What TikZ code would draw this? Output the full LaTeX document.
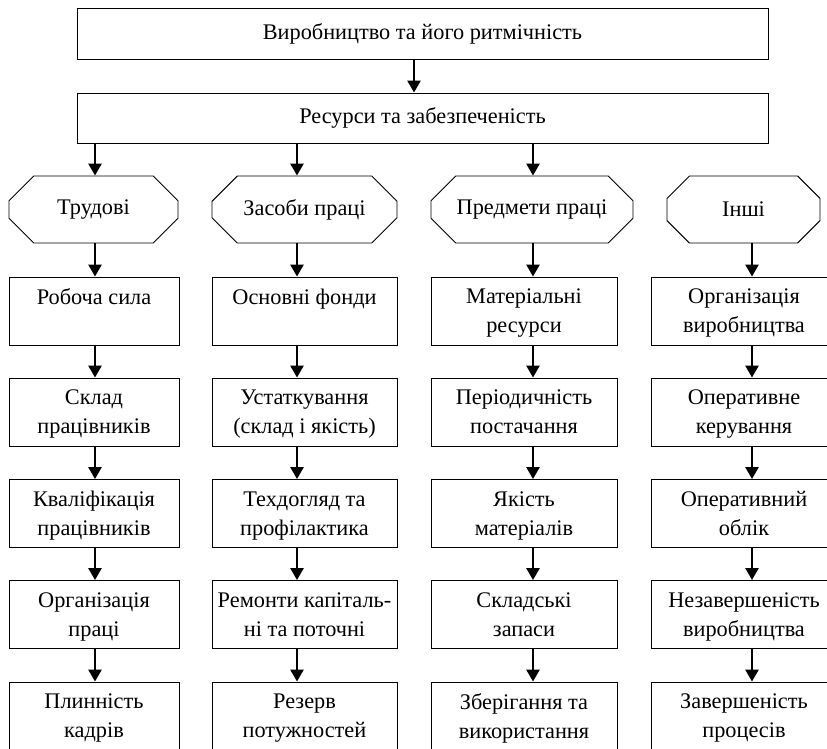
\documentclass[tikz,border=0pt]{standalone}
\usepackage{fontspec}
\setmainfont{Liberation Serif}
\usetikzlibrary{arrows.meta}
\usetikzlibrary{shapes.misc}

\tikzset{
  txt/.style={font=\fontsize{22.3}{29}\selectfont},
  wide/.style={txt, draw, line width=0.9pt, minimum width=691pt, minimum height=51pt, inner sep=0pt},
  octa/.style={txt, chamfered rectangle, chamfered rectangle xsep=22pt, chamfered rectangle ysep=15pt, draw, line width=0.9pt, minimum height=67pt, inner sep=0pt},
  box/.style={txt, draw, line width=0.9pt, minimum height=68pt, inner sep=0pt, align=center, text depth=0pt},
  arr/.style={-{Triangle[width=13pt,length=12pt]}, line width=2.6pt}
}

\begin{document}
\begin{tikzpicture}[x=1pt,y=-1pt]
                \useasboundingbox (0,0) rectangle (827,748);
                \clip (0,0) rectangle (827,748);

                % top
                \node[wide] (vyrob) at (422.5,33.5) {Виробництво та його ритмічність};
                \node[wide, minimum height=50pt] (resurs) at (422.5,118) {Ресурси та забезпеченість};

                % column lines
                \coordinate (k0) at (414,0);
                \coordinate (k1) at (95,0);
                \coordinate (k2) at (297,0);
                \coordinate (k3) at (533,0);
                \coordinate (k4) at (752,0);

                % groups
                \node[octa, minimum width=169pt] (trud) at (93.5,209.5) {Трудові};
                \node[octa, minimum width=185pt] (zasob) at (304.5,209.5) {Засоби праці};
                \node[octa, minimum width=202pt] (predm) at (532,209.5) {Предмети праці};
                \node[octa, minimum width=153pt] (inshi) at (743.5,209.5) {Інші};

                % trudovi
                \node[box, minimum width=170pt] (t1) at (94,311) {Робоча сила\\\mbox{}};
                \node[box, minimum width=170pt] (t2) at (94,412) {Склад\\працівників};
                \node[box, minimum width=170pt] (t3) at (94,513.5) {Кваліфікація\\працівників};
                \node[box, minimum width=170pt] (t4) at (94,614.5) {Організація\\праці};
                \node[box, minimum width=170pt] (t5) at (94,716) {Плинність\\кадрів};

                % zasoby
                \node[box, minimum width=185pt] (z1) at (304.5,311) {Основні фонди\\\mbox{}};
                \node[box, minimum width=185pt] (z2) at (304.5,412) {Устаткування\\(склад і якість)};
                \node[box, minimum width=185pt] (z3) at (304.5,513.5) {Техдогляд та\\профілактика};
                \node[box, minimum width=185pt] (z4) at (304.5,614.5) {Ремонти капіталь-\\ні та поточні};
                \node[box, minimum width=185pt] (z5) at (304.5,716) {Резерв\\потужностей};

                % predmety
                \node[box, minimum width=186pt] (p1) at (524,311) {Матеріальні\\ресурси};
                \node[box, minimum width=186pt] (p2) at (524,412) {Періодичність\\постачання};
                \node[box, minimum width=186pt] (p3) at (524,513.5) {Якість\\матеріалів};
                \node[box, minimum width=186pt] (p4) at (524,614.5) {Складські\\запаси};
                \node[box, minimum width=186pt] (p5) at (524,716) {Зберігання та\\використання};

                % inshi
                \node[box, minimum width=186pt] (i1) at (744,311) {Організація\\виробництва};
                \node[box, minimum width=186pt] (i2) at (744,412) {Оперативне\\керування};
                \node[box, minimum width=186pt] (i3) at (744,513.5) {Оперативний\\облік};
                \node[box, minimum width=186pt] (i4) at (744,614.5) {Незавершеність\\виробництва};
                \node[box, minimum width=186pt] (i5) at (744,716) {Завершеність\\процесів};

                % arrows
                \draw[arr] (vyrob.south -| k0) -- (resurs.north -| k0);
                \draw[arr] (resurs.south -| k1) -- (trud.north -| k1);
                \draw[arr] (resurs.south -| k2) -- (zasob.north -| k2);
                \draw[arr] (resurs.south -| k3) -- (predm.north -| k3);

                \draw[arr] (trud.south -| k1) -- (t1.north -| k1);
                \draw[arr] (t1.south -| k1) -- (t2.north -| k1);
                \draw[arr] (t2.south -| k1) -- (t3.north -| k1);
                \draw[arr] (t3.south -| k1) -- (t4.north -| k1);
                \draw[arr] (t4.south -| k1) -- (t5.north -| k1);

                \draw[arr] (zasob.south -| k2) -- (z1.north -| k2);
                \draw[arr] (z1.south -| k2) -- (z2.north -| k2);
                \draw[arr] (z2.south -| k2) -- (z3.north -| k2);
                \draw[arr] (z3.south -| k2) -- (z4.north -| k2);
                \draw[arr] (z4.south -| k2) -- (z5.north -| k2);

                \draw[arr] (predm.south -| k3) -- (p1.north -| k3);
                \draw[arr] (p1.south -| k3) -- (p2.north -| k3);
                \draw[arr] (p2.south -| k3) -- (p3.north -| k3);
                \draw[arr] (p3.south -| k3) -- (p4.north -| k3);
                \draw[arr] (p4.south -| k3) -- (p5.north -| k3);

                \draw[arr] (inshi.south -| k4) -- (i1.north -| k4);
                \draw[arr] (i1.south -| k4) -- (i2.north -| k4);
                \draw[arr] (i2.south -| k4) -- (i3.north -| k4);
                \draw[arr] (i3.south -| k4) -- (i4.north -| k4);
                \draw[arr] (i4.south -| k4) -- (i5.north -| k4);

\end{tikzpicture}
\end{document}
